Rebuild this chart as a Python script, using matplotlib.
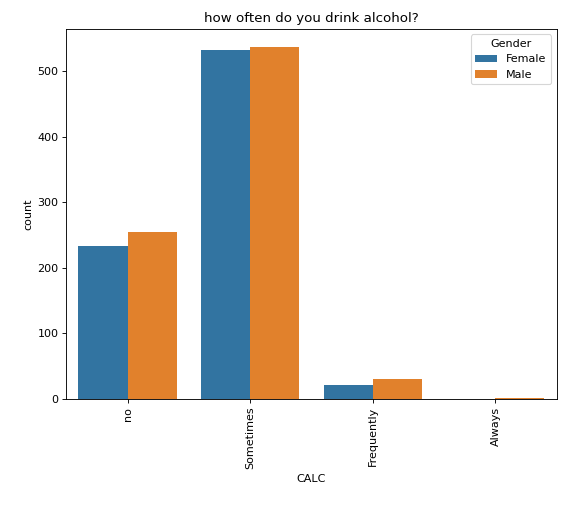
import pandas as pd
import matplotlib
matplotlib.use("Agg")
import matplotlib.pyplot as plt
import seaborn as sns

# counts
categories = ["no", "Sometimes", "Frequently", "Always"]
female_counts = [234, 532, 21, 0]
male_counts = [255, 538, 31, 1]

df = pd.DataFrame({
    "CALC": categories * 2,
    "count": female_counts + male_counts,
    "Gender": ["Female"] * 4 + ["Male"] * 4,
})

fig, ax = plt.subplots(figsize=(571 / 80, 516 / 80), dpi=80)
sns.barplot(data=df, x="CALC", y="count", hue="Gender", order=categories,
            hue_order=["Female", "Male"], ax=ax)
ax.set_title("how often do you drink alcohol?")
ax.tick_params(axis="x", rotation=90)
plt.subplots_adjust(left=0.116, right=0.975, top=0.944, bottom=0.227)
fig.savefig("out.png")
